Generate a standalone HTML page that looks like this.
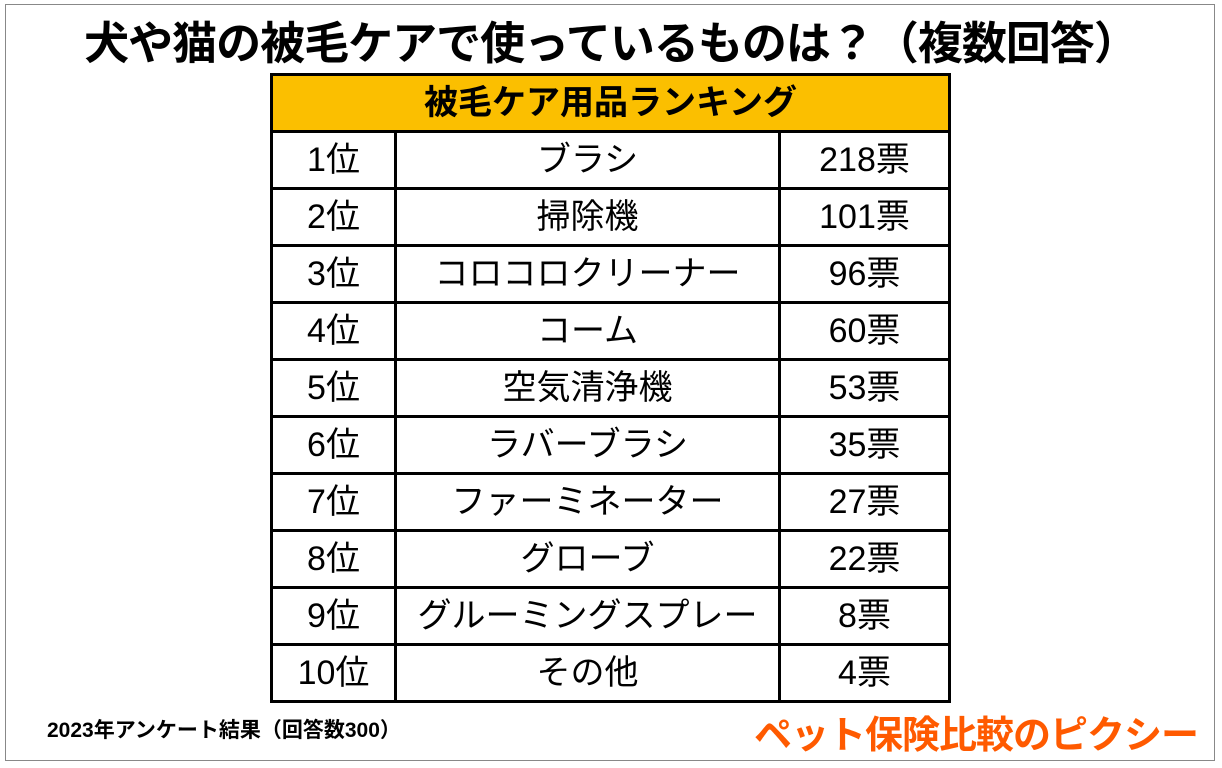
<!DOCTYPE html>
<html><head><meta charset="utf-8">
<style>
html,body{margin:0;padding:0;background:#fff;}
body{width:1222px;height:768px;position:relative;overflow:hidden;font-family:"Liberation Sans","Noto Sans CJK JP",sans-serif;}
#frame{position:absolute;left:5px;top:4px;width:1210px;height:757px;border:1px solid #888;box-sizing:border-box;}
#title{position:absolute;left:0;width:1222px;top:16px;text-align:center;font-size:45px;font-weight:bold;line-height:56px;color:#000;letter-spacing:-1px;}
table{position:absolute;left:270px;top:73px;border-collapse:collapse;}
td,th{border:3px solid #000;text-align:center;font-size:34px;font-weight:normal;padding:0;height:54px;line-height:54px;color:#000;}
th{background:#FBBF00;font-weight:bold;font-size:34px;}
#foot{position:absolute;left:47px;top:714px;font-size:21px;font-weight:bold;}
#logo{position:absolute;left:754px;top:704px;font-size:38px;font-weight:bold;color:#FF5A00;letter-spacing:-1px;}
</style></head><body>
<div id="frame"></div>
<div id="title">犬や猫の被毛ケアで使っているものは？（複数回答）</div>
<table>
<colgroup><col style="width:124px"><col style="width:384px"><col style="width:170px"></colgroup>
<tr><th colspan="3">被毛ケア用品ランキング</th></tr>
<tbody id="rows"></tbody>
</table>
<div id="foot">2023年アンケート結果（回答数300）</div>
<div id="logo">ペット保険比較のピクシー</div>
<script>
const ranks=["1位","2位","3位","4位","5位","6位","7位","8位","9位","10位"];
const items=["ブラシ","掃除機","コロコロクリーナー","コーム","空気清浄機","ラバーブラシ","ファーミネーター","グローブ","グルーミングスプレー","その他"];
const votes=[218,101,96,60,53,35,27,22,8,4];
const tb=document.getElementById('rows');
ranks.forEach((r,i)=>{
  const tr=document.createElement('tr');
  
  
  const a=document.createElement('td');a.textContent=r;
  
  
  const b=document.createElement('td');b.textContent=items[i];
  
  
  const c=document.createElement('td');c.textContent=votes[i]+"票";
  
  
  tr.append(a,b,c);tb.appendChild(tr);
});
</script>
</body></html>
